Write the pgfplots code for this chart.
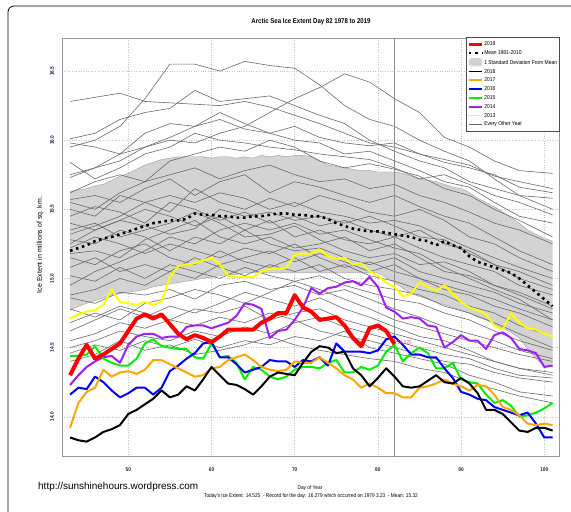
\documentclass[border=0pt]{standalone}
\usepackage{fontspec}
\setmainfont{Liberation Sans}
\newfontfamily\cond{Liberation Sans}[FakeStretch=0.87]
\usepackage{pgfplots}
\usepackage{pgfplotstable}
\usepgfplotslibrary{fillbetween}
\pgfplotsset{compat=1.18}
\definecolor{rpurple}{RGB}{160,32,240}
\definecolor{rorange}{RGB}{255,165,0}
\definecolor{rgreen}{RGB}{0,238,0}
\definecolor{rblue}{RGB}{0,0,255}
\definecolor{ryellow}{RGB}{255,255,0}
\definecolor{glines}{RGB}{105,105,105}
\definecolor{bandfill}{RGB}{211,211,211}
\definecolor{framec}{RGB}{150,150,150}
\definecolor{tickc}{RGB}{45,30,80}

\pgfplotstableread{
day red black orange blue green purple yellow mean lo hi
43 14.30 13.85 13.92 14.16 14.44 14.23 14.71 15.20 14.77 15.63
44 14.42 13.83 14.10 14.21 14.44 14.30 14.74 15.22 14.80 15.64
45 14.52 13.82 14.18 14.20 14.45 14.36 14.76 15.24 14.82 15.65
46 14.42 13.85 14.21 14.29 14.51 14.40 14.77 15.27 14.84 15.67
47 14.45 13.89 14.34 14.25 14.42 14.43 14.81 15.29 14.86 15.68
48 14.49 13.91 14.29 14.19 14.39 14.44 14.92 15.30 14.88 15.71
49 14.53 13.94 14.32 14.14 14.37 14.39 14.83 15.32 14.89 15.74
50 14.62 14.02 14.33 14.17 14.37 14.52 14.82 15.34 14.90 15.76
51 14.71 14.05 14.31 14.21 14.42 14.58 14.81 15.36 14.91 15.79
52 14.74 14.09 14.34 14.21 14.53 14.60 14.83 15.38 14.92 15.82
53 14.71 14.13 14.41 14.16 14.56 14.60 14.81 15.40 14.94 15.84
54 14.74 14.19 14.41 14.21 14.51 14.57 14.83 15.41 14.95 15.86
55 14.67 14.14 14.38 14.33 14.50 14.58 15.01 15.42 14.96 15.87
56 14.60 14.16 14.35 14.37 14.49 14.58 15.09 15.42 14.97 15.88
57 14.56 14.22 14.32 14.42 14.49 14.65 15.10 15.43 14.98 15.88
58 14.59 14.19 14.29 14.46 14.43 14.66 15.11 15.47 14.99 15.88
59 14.57 14.27 14.30 14.53 14.42 14.66 15.13 15.46 15.00 15.88
60 14.54 14.36 14.35 14.54 14.53 14.64 15.15 15.46 15.01 15.87
61 14.58 14.30 14.36 14.43 14.43 14.66 15.10 15.45 15.02 15.88
62 14.63 14.24 14.41 14.43 14.44 14.68 15.02 15.45 15.03 15.88
63 14.63 14.23 14.43 14.38 14.39 14.73 15.01 15.44 15.03 15.87
64 14.63 14.20 14.45 14.32 14.27 14.82 15.01 15.44 15.04 15.88
65 14.63 14.16 14.41 14.34 14.36 14.81 15.01 15.45 15.04 15.87
66 14.68 14.22 14.36 14.36 14.34 14.78 15.05 15.45 15.04 15.89
67 14.71 14.29 14.34 14.41 14.29 14.57 15.07 15.46 15.04 15.88
68 14.75 14.32 14.33 14.40 14.27 14.62 15.07 15.47 15.04 15.89
69 14.75 14.31 14.34 14.40 14.29 14.63 15.08 15.47 15.04 15.88
70 14.88 14.30 14.40 14.36 14.34 14.70 15.17 15.46 15.04 15.89
71 14.79 14.39 14.39 14.41 14.36 14.79 15.18 15.46 15.04 15.89
72 14.76 14.47 14.39 14.40 14.36 14.93 15.18 15.45 15.04 15.88
73 14.70 14.51 14.43 14.43 14.35 14.89 15.21 15.45 15.04 15.85
74 14.71 14.50 14.39 14.37 14.39 14.93 15.16 15.43 15.04 15.82
75 14.72 14.46 14.35 14.53 14.41 14.94 15.14 15.40 15.04 15.81
76 14.66 14.47 14.30 14.47 14.32 14.97 15.15 15.38 15.04 15.80
77 14.57 14.35 14.27 14.47 14.32 14.98 15.10 15.36 15.04 15.79
78 14.51 14.30 14.21 14.47 14.36 14.95 15.11 15.35 15.04 15.78
79 14.64 14.22 14.24 14.46 14.34 15.01 15.05 15.34 15.04 15.78
80 14.66 14.28 14.21 14.48 14.37 14.94 15.02 15.34 15.04 15.77
81 14.62 14.35 14.17 14.56 14.47 14.79 14.97 15.33 15.01 15.77
82 14.525 14.29 14.17 14.58 14.52 14.76 14.94 15.32 14.97 15.77
83 nan 14.22 14.14 14.52 14.40 14.71 14.87 15.31 14.93 15.76
84 nan 14.21 14.14 14.45 14.46 14.72 14.89 15.30 14.89 15.74
85 nan 14.22 14.21 14.45 14.50 14.71 14.97 15.28 14.87 15.72
86 nan 14.26 14.22 14.43 14.46 14.66 14.94 15.27 14.85 15.71
87 nan 14.30 14.24 14.43 14.35 14.65 14.91 15.24 14.83 15.70
88 nan 14.25 14.27 14.35 14.35 14.50 14.95 15.27 14.81 15.68
89 nan 14.24 14.24 14.28 14.39 14.54 14.89 15.24 14.79 15.66
90 nan 14.28 14.22 14.18 14.27 14.59 14.83 15.22 14.77 15.65
91 nan 14.24 14.19 14.16 14.25 14.55 14.79 15.16 14.75 15.62
92 nan 14.17 14.23 14.13 14.24 14.55 14.77 15.12 14.72 15.58
93 nan 14.05 14.22 14.12 14.16 14.49 14.74 15.10 14.70 15.55
94 nan 14.05 14.16 14.07 14.10 14.59 14.66 15.08 14.67 15.52
95 nan 14.02 14.07 14.05 14.12 14.61 14.63 15.06 14.64 15.48
96 nan 13.96 14.05 14.03 14.08 14.57 14.75 15.04 14.61 15.44
97 nan 13.90 14.01 14.01 14.00 14.49 14.68 15.00 14.57 15.40
98 nan 13.89 13.95 14.03 14.01 14.48 14.64 14.95 14.49 15.35
99 nan 13.92 13.94 13.95 14.03 14.46 14.63 14.90 14.42 15.32
100 nan 13.92 13.95 13.85 14.06 14.36 14.60 14.85 14.37 15.29
101 nan 13.90 13.94 13.85 14.10 14.37 14.58 14.80 14.36 15.27
}\cdata

\begin{document}
\begin{tikzpicture}
\begin{axis}[
  at={(62bp,55.3bp)}, anchor=south west,
  scale only axis, width=497bp, height=418.7bp,
  xmin=42.03, xmax=101.77, ymin=13.711, ymax=16.739,
  xtick={50,60,70,80,90,100},
  ytick={14,14.5,15,15.5,16,16.5},
  yticklabel={\pgfmathprintnumber[fixed,fixed zerofill,precision=1]{\tick}},
  /pgf/number format/assume math mode=true,
  major tick length=0pt,
  tick style={draw=none},
  ticklabel style={font=\cond\bfseries\fontsize{5.5}{6}\selectfont, text=tickc, inner sep=0pt},
  xticklabel style={anchor=center},
  xticklabel shift=13.3bp,
  yticklabel style={rotate=90, anchor=center},
  yticklabel shift=10bp,
  axis line style={framec, line width=0.9bp},
  grid=major,
  major grid style={dotted, gray!45, line width=0.4bp},
  legend style={at={(0.8129,1.002)}, anchor=north west, draw=black!70, line width=0.5bp, fill=white,
    font=\cond\fontsize{5.7}{6}\selectfont, inner xsep=1.2bp, inner ysep=3.2bp, row sep=1.9bp,
    nodes={inner sep=0.8bp, text height=4.3bp, text depth=1bp}},
  legend cell align=left,
  legend image code/.code={\draw[#1] (0bp,0bp) -- (13bp,0bp);},
]
% standard deviation band
\addplot[name path=hi, draw=none, forget plot] table[x=day,y=hi]{\cdata};
\addplot[name path=lo, draw=none, forget plot] table[x=day,y=lo]{\cdata};
\addplot[bandfill, forget plot] fill between[of=hi and lo];
\addplot[gray!75, line width=0.4bp, forget plot] table[x=day,y=hi]{\cdata};
\addplot[gray!75, line width=0.4bp, forget plot] table[x=day,y=lo]{\cdata};

% other years (grey)
\pgfplotsset{every axis plot/.append style={line join=round}}
\addplot[glines, line width=0.6bp, forget plot] coordinates {(43,15.95)(46,16.00)(49,16.10)(52,16.30)(55,16.55)(58,16.55)(61,16.50)(64,16.57)(67,16.54)(70,16.52)(73,16.40)(76,16.25)(79,16.15)(82,16.10)(85,16.00)(88,15.92)(91,15.85)(94,15.72)(97,15.60)(101,15.50)};
\addplot[glines, line width=0.6bp, forget plot] coordinates {(43,16.28)(46,16.31)(49,16.34)(52,16.28)(55,16.27)(58,16.26)(61,16.25)(64,16.28)(67,16.24)(70,16.18)(73,16.12)(76,16.05)(79,15.98)(82,15.95)(85,15.90)(88,15.84)(91,15.80)(94,15.75)(97,15.66)(101,15.62)};
\addplot[glines, line width=0.6bp, forget plot] coordinates {(43,15.75)(46,15.80)(49,15.90)(52,15.95)(55,16.00)(58,15.98)(61,16.05)(64,16.10)(67,16.20)(70,16.30)(73,16.38)(76,16.48)(79,16.42)(82,16.30)(85,16.20)(88,16.02)(91,15.95)(94,15.85)(97,15.78)(101,15.76)};
\addplot[glines, line width=0.6bp, forget plot] coordinates {(43,16.01)(46,16.05)(49,16.15)(52,16.20)(55,16.23)(58,16.36)(61,16.28)(64,16.30)(67,16.32)(70,16.25)(73,16.18)(76,16.12)(79,16.00)(82,15.92)(85,15.85)(88,15.80)(91,15.70)(94,15.65)(97,15.60)(101,15.58)};
\addplot[glines, line width=0.6bp, forget plot] coordinates {(43,15.98)(46,15.95)(49,15.90)(52,16.05)(55,16.12)(58,16.10)(61,16.15)(64,16.08)(67,16.05)(70,16.10)(73,16.02)(76,15.98)(79,15.96)(82,15.98)(85,15.90)(88,15.86)(91,15.82)(94,15.74)(97,15.70)(101,15.65)};
\addplot[glines, line width=0.6bp, forget plot] coordinates {(43,15.84)(46,15.72)(49,15.80)(52,15.90)(55,15.95)(58,16.05)(61,16.00)(64,15.98)(67,15.95)(70,15.93)(73,15.90)(76,15.88)(79,15.86)(82,15.80)(85,15.72)(88,15.75)(91,15.68)(94,15.60)(97,15.55)(101,15.46)};
\addplot[glines, line width=0.6bp, forget plot] coordinates {(43,15.73)(46,15.80)(49,15.85)(52,15.95)(55,16.02)(58,16.10)(61,16.20)(64,16.12)(67,16.05)(70,16.00)(73,15.98)(76,15.90)(79,15.92)(82,15.85)(85,15.78)(88,15.70)(91,15.66)(94,15.55)(97,15.45)(101,15.40)};
\addplot[glines, line width=0.6bp, forget plot] coordinates {(43,15.62)(46,15.70)(49,15.75)(52,15.70)(55,15.85)(58,15.90)(61,15.95)(64,15.92)(67,16.00)(70,15.95)(73,15.85)(76,15.80)(79,15.83)(82,15.79)(85,15.74)(88,15.65)(91,15.60)(94,15.50)(97,15.42)(101,15.30)};
\addplot[glines, line width=0.6bp, forget plot] coordinates {(43,15.57)(46,15.60)(49,15.55)(52,15.65)(55,15.72)(58,15.60)(61,15.70)(64,15.75)(67,15.62)(70,15.70)(73,15.66)(76,15.60)(79,15.55)(82,15.60)(85,15.52)(88,15.45)(91,15.40)(94,15.30)(97,15.20)(101,15.10)};
\addplot[glines, line width=0.6bp, forget plot] coordinates {(43,15.50)(46,15.45)(49,15.60)(52,15.55)(55,15.48)(58,15.65)(61,15.55)(64,15.50)(67,15.58)(70,15.52)(73,15.60)(76,15.55)(79,15.48)(82,15.45)(85,15.50)(88,15.42)(91,15.30)(94,15.25)(97,15.15)(101,15.05)};
\addplot[glines, line width=0.6bp, forget plot] coordinates {(43,15.45)(46,15.52)(49,15.48)(52,15.40)(55,15.55)(58,15.50)(61,15.42)(64,15.48)(67,15.40)(70,15.45)(73,15.38)(76,15.42)(79,15.35)(82,15.30)(85,15.35)(88,15.25)(91,15.20)(94,15.10)(97,15.00)(101,14.92)};
\addplot[glines, line width=0.6bp, forget plot] coordinates {(43,15.40)(46,15.35)(49,15.42)(52,15.50)(55,15.45)(58,15.38)(61,15.45)(64,15.35)(67,15.42)(70,15.30)(73,15.35)(76,15.28)(79,15.25)(82,15.30)(85,15.22)(88,15.15)(91,15.10)(94,15.05)(97,14.95)(101,14.88)};
\addplot[glines, line width=0.6bp, forget plot] coordinates {(43,15.35)(46,15.40)(49,15.30)(52,15.35)(55,15.40)(58,15.48)(61,15.40)(64,15.30)(67,15.32)(70,15.38)(73,15.28)(76,15.20)(79,15.15)(82,15.18)(85,15.10)(88,15.12)(91,15.05)(94,14.95)(97,14.90)(101,14.80)};
\addplot[glines, line width=0.6bp, forget plot] coordinates {(43,15.28)(46,15.25)(49,15.35)(52,15.30)(55,15.20)(58,15.30)(61,15.25)(64,15.35)(67,15.25)(70,15.20)(73,15.22)(76,15.15)(79,15.10)(82,15.15)(85,15.05)(88,15.00)(91,14.95)(94,14.90)(97,14.82)(101,14.75)};
\addplot[glines, line width=0.6bp, forget plot] coordinates {(43,15.22)(46,15.30)(49,15.25)(52,15.18)(55,15.25)(58,15.20)(61,15.15)(64,15.22)(67,15.18)(70,15.25)(73,15.15)(76,15.08)(79,15.12)(82,15.05)(85,15.00)(88,14.92)(91,14.88)(94,14.80)(97,14.75)(101,14.65)};
\addplot[glines, line width=0.6bp, forget plot] coordinates {(43,15.15)(46,15.10)(49,15.20)(52,15.25)(55,15.15)(58,15.10)(61,15.20)(64,15.12)(67,15.08)(70,15.15)(73,15.05)(76,15.10)(79,15.02)(82,14.98)(85,14.92)(88,14.88)(91,14.80)(94,14.75)(97,14.66)(101,14.58)};
\addplot[glines, line width=0.6bp, forget plot] coordinates {(43,15.08)(46,15.15)(49,15.05)(52,15.10)(55,15.05)(58,15.15)(61,15.08)(64,15.02)(67,15.10)(70,15.05)(73,15.10)(76,15.00)(79,14.95)(82,14.92)(85,14.88)(88,14.80)(91,14.75)(94,14.68)(97,14.60)(101,14.50)};
\addplot[glines, line width=0.6bp, forget plot] coordinates {(43,15.02)(46,14.98)(49,15.08)(52,15.00)(55,15.10)(58,15.05)(61,15.00)(64,15.08)(67,15.02)(70,14.98)(73,15.02)(76,14.95)(79,14.90)(82,14.85)(85,14.82)(88,14.75)(91,14.70)(94,14.62)(97,14.55)(101,14.48)};
\addplot[glines, line width=0.6bp, forget plot] coordinates {(43,15.55)(46,15.50)(49,15.62)(52,15.70)(55,15.75)(58,15.80)(61,15.72)(64,15.78)(67,15.82)(70,15.75)(73,15.70)(76,15.72)(79,15.65)(82,15.68)(85,15.60)(88,15.55)(91,15.48)(94,15.40)(97,15.35)(101,15.25)};
\addplot[glines, line width=0.6bp, forget plot] coordinates {(43,15.32)(46,15.38)(49,15.45)(52,15.55)(55,15.60)(58,15.55)(61,15.62)(64,15.58)(67,15.50)(70,15.55)(73,15.48)(76,15.45)(79,15.40)(82,15.42)(85,15.38)(88,15.30)(91,15.22)(94,15.15)(97,15.08)(101,15.00)};
\addplot[glines, line width=0.6bp, forget plot] coordinates {(43,14.95)(46,15.05)(49,15.12)(52,15.20)(55,15.30)(58,15.25)(61,15.35)(64,15.40)(67,15.35)(70,15.40)(73,15.32)(76,15.35)(79,15.28)(82,15.22)(85,15.18)(88,15.08)(91,15.00)(94,14.92)(97,14.85)(101,14.70)};
\addplot[glines, line width=0.6bp, forget plot] coordinates {(43,15.18)(46,15.20)(49,15.15)(52,15.28)(55,15.35)(58,15.42)(61,15.30)(64,15.25)(67,15.30)(70,15.22)(73,15.25)(76,15.30)(79,15.20)(82,15.25)(85,15.15)(88,15.05)(91,15.02)(94,14.95)(97,14.88)(101,14.78)};
\addplot[glines, line width=0.6bp, forget plot] coordinates {(43,14.88)(46,14.92)(49,15.00)(52,14.95)(55,15.05)(58,15.00)(61,15.10)(64,15.15)(67,15.20)(70,15.12)(73,15.18)(76,15.12)(79,15.05)(82,15.10)(85,15.00)(88,14.95)(91,14.90)(94,14.85)(97,14.78)(101,14.70)};
\addplot[glines, line width=0.6bp, forget plot] coordinates {(43,15.25)(46,15.35)(49,15.42)(52,15.38)(55,15.32)(58,15.36)(61,15.50)(64,15.45)(67,15.48)(70,15.42)(73,15.45)(76,15.40)(79,15.45)(82,15.38)(85,15.30)(88,15.28)(91,15.18)(94,15.10)(97,15.05)(101,14.95)};
\addplot[glines, line width=0.6bp, forget plot] coordinates {(43,14.86)(46,14.82)(49,14.90)(52,14.88)(55,14.92)(58,14.85)(61,14.95)(64,14.98)(67,14.92)(70,14.95)(73,14.88)(76,14.92)(79,14.85)(82,14.78)(85,14.72)(88,14.65)(91,14.60)(94,14.55)(97,14.48)(101,14.42)};
\addplot[glines, line width=0.6bp, forget plot] coordinates {(43,14.62)(46,14.70)(49,14.78)(52,14.72)(55,14.80)(58,14.75)(61,14.82)(64,14.90)(67,14.85)(70,14.80)(73,14.86)(76,14.78)(79,14.72)(82,14.65)(85,14.58)(88,14.55)(91,14.48)(94,14.40)(97,14.35)(101,14.30)};
\addplot[glines, line width=0.6bp, forget plot] coordinates {(43,14.55)(46,14.60)(49,14.68)(52,14.64)(55,14.70)(58,14.66)(61,14.72)(64,14.68)(67,14.75)(70,14.70)(73,14.62)(76,14.58)(79,14.55)(82,14.50)(85,14.45)(88,14.40)(91,14.38)(94,14.32)(97,14.28)(101,14.25)};
\addplot[glines, line width=0.6bp, forget plot] coordinates {(43,14.50)(46,14.55)(49,14.62)(52,14.58)(55,14.55)(58,14.62)(61,14.58)(64,14.65)(67,14.60)(70,14.68)(73,14.72)(76,14.65)(79,14.60)(82,14.55)(85,14.50)(88,14.45)(91,14.42)(94,14.35)(97,14.30)(101,14.28)};
\addplot[glines, line width=0.6bp, forget plot] coordinates {(43,14.46)(46,14.52)(49,14.48)(52,14.55)(55,14.50)(58,14.56)(61,14.50)(64,14.55)(67,14.52)(70,14.58)(73,14.55)(76,14.62)(79,14.50)(82,14.46)(85,14.42)(88,14.38)(91,14.30)(94,14.25)(97,14.18)(101,14.15)};
\addplot[glines, line width=0.6bp, forget plot] coordinates {(43,14.40)(46,14.45)(49,14.55)(52,14.48)(55,14.52)(58,14.45)(61,14.48)(64,14.52)(67,14.58)(70,14.52)(73,14.48)(76,14.45)(79,14.42)(82,14.40)(85,14.35)(88,14.32)(91,14.25)(94,14.20)(97,14.15)(101,14.10)};
\addplot[glines, line width=0.6bp, forget plot] coordinates {(43,14.68)(46,14.75)(49,14.70)(52,14.82)(55,14.86)(58,14.92)(61,14.88)(64,14.82)(67,14.90)(70,14.98)(73,14.92)(76,14.85)(79,14.78)(82,14.70)(85,14.65)(88,14.60)(91,14.55)(94,14.50)(97,14.45)(101,14.40)};
\addplot[glines, line width=0.6bp, forget plot] coordinates {(43,14.78)(46,14.72)(49,14.80)(52,14.75)(55,14.70)(58,14.78)(61,14.75)(64,14.80)(67,14.70)(70,14.75)(73,14.78)(76,14.70)(79,14.65)(82,14.60)(85,14.55)(88,14.50)(91,14.45)(94,14.40)(97,14.35)(101,14.32)};

% today marker line
\addplot[gray!90, line width=0.8bp, forget plot] coordinates {(82,13.711)(82,16.739)};

% mean
\addplot[black, line width=2.6bp, dash pattern=on 2.6bp off 3.6bp, forget plot] table[x=day,y=mean]{\cdata};

% recent years
\addplot[ryellow, line width=2bp, forget plot] table[x=day,y=yellow]{\cdata};
\addplot[rpurple, line width=2bp, forget plot] table[x=day,y=purple]{\cdata};
\addplot[rgreen, line width=2bp, forget plot] table[x=day,y=green]{\cdata};
\addplot[rblue, line width=2bp, forget plot] table[x=day,y=blue]{\cdata};
\addplot[rorange, line width=2bp, forget plot] table[x=day,y=orange]{\cdata};
\addplot[black, line width=2bp, forget plot] table[x=day,y=black]{\cdata};
\addplot[red, line width=4bp, forget plot] table[x=day,y=red]{\cdata};

\node[font=\cond\fontsize{5.5}{6}\selectfont, text=red!65, anchor=west, inner sep=0pt] at (axis cs:82.3,14.535) {14.525};

% legend
\addlegendimage{red, line width=3bp}
\addlegendentry{2019}
\addlegendimage{black, line width=2.4bp, dash pattern=on 2.4bp off 4bp}
\addlegendentry{Mean 1981-2010}
\addlegendimage{legend image code/.code={\fill[bandfill, rounded corners=2.5bp] (0bp,-3.4bp) rectangle (13bp,4bp);}}
\addlegendentry{1 Standard Deviation From Mean}
\addlegendimage{black, line width=1.8bp}
\addlegendentry{2018}
\addlegendimage{rorange, line width=1.8bp}
\addlegendentry{2017}
\addlegendimage{rblue, line width=1.8bp}
\addlegendentry{2016}
\addlegendimage{rgreen, line width=1.8bp}
\addlegendentry{2015}
\addlegendimage{rpurple, line width=1.8bp}
\addlegendentry{2014}
\addlegendimage{ryellow, line width=1.8bp}
\addlegendentry{2013}
\addlegendimage{glines, line width=0.6bp}
\addlegendentry{Every Other Year}
\end{axis}

% texts around
\node[font=\cond\bfseries\fontsize{7}{8}\selectfont] at (311bp,490bp) {Arctic Sea Ice Extent Day 82 1978 to 2019};
\node[font=\fontsize{7}{8}\selectfont, rotate=90] at (40bp,267bp) {Ice Extent in millions of sq. km.};
\node[font=\cond\fontsize{5.5}{6}\selectfont] at (310bp,24bp) {Day of Year};
\node[font=\cond\fontsize{5.5}{6}\selectfont] at (311bp,15.5bp) {Today's Ice Extent: 14.525 \ - Record for the day: 16.279 which occurred on 1979 3.23 \ - Mean: 15.32};
\node[font=\fontsize{10}{12}\selectfont, anchor=west, inner sep=0pt] at (38bp,25bp) {http://sunshinehours.wordpress.com};

% window border
\draw[black, line width=0.8bp, rounded corners=6bp] (8bp,506bp) -- (620bp,506bp) -- (620bp,-40bp) -- (8bp,-40bp) -- cycle;

\pgfresetboundingbox
\useasboundingbox (0bp,0bp) rectangle (571bp,512bp);
\end{tikzpicture}
\end{document}
